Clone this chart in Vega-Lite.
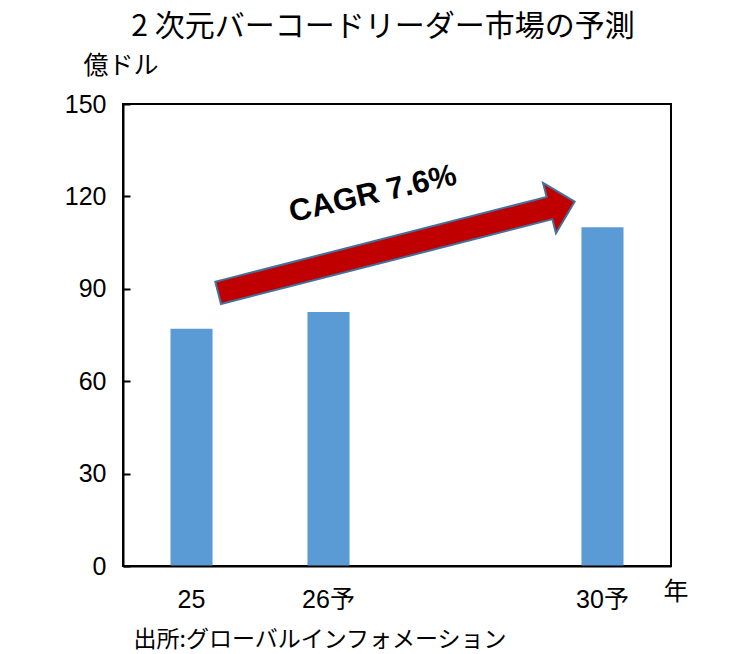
{
  "$schema": "https://vega.github.io/schema/vega-lite/v6.json",
  "autosize": {"type": "none"},
  "padding": {"left": 123, "top": 104, "right": 79, "bottom": 88},
  "width": 548,
  "height": 462,
  "background": "white",
  "title": {
    "text": "2 次元バーコードリーダー市場の予測",
    "font": "Noto Sans CJK JP",
    "fontSize": 30,
    "fontWeight": "normal",
    "color": "black",
    "anchor": "middle",
    "frame": "group",
    "dx": -14,
    "offset": 11
  },
  "config": {
    "view": {"stroke": "black", "strokeWidth": 2},
    "axis": {"grid": false}
  },
  "resolve": {"scale": {"x": "independent"}, "axis": {"x": "independent"}},
  "layer": [
    {
      "data": {
        "values": [
          {"year": "25", "value": 77},
          {"year": "26予", "value": 82.5},
          {"year": "30予", "value": 110}
        ]
      },
      "mark": {"type": "bar", "color": "#5B9BD5"},
      "encoding": {
        "x": {
          "field": "year",
          "type": "nominal",
          "sort": null,
          "scale": {"domain": ["25", "26予", "_", "30予"], "paddingInner": 0.693, "paddingOuter": 0.3467},
          "axis": {
            "orient": "bottom",
            "labelAngle": 0,
            "labelExpr": "datum.value == '_' ? '' : datum.value",
            "labelFont": "Liberation Sans, 'Noto Sans CJK JP'",
            "labelFontSize": 25,
            "labelColor": "black",
            "labelPadding": 21,
            "ticks": false,
            "domainColor": "black",
            "domainWidth": 2,
            "zindex": 1,
            "title": "年",
            "titleFont": "Noto Sans CJK JP",
            "titleFontSize": 25,
            "titleFontWeight": "normal",
            "titleColor": "black",
            "titleAlign": "left",
            "titleBaseline": "middle",
            "titleX": 540,
            "titleY": 25
          }
        },
        "y": {
          "field": "value",
          "type": "quantitative",
          "title": "億ドル",
          "scale": {"domain": [0, 150], "nice": false},
          "axis": {
            "values": [0, 30, 60, 90, 120, 150],
            "labelFont": "Liberation Sans",
            "labelFontSize": 25,
            "labelColor": "black",
            "tickSize": -7,
            "tickColor": "black",
            "tickWidth": 2,
            "labelPadding": 24,
            "domainColor": "black",
            "domainWidth": 2,
            "titleFont": "Noto Sans CJK JP",
            "titleFontSize": 25,
            "titleFontWeight": "normal",
            "titleColor": "black",
            "titleAngle": 0,
            "titleAlign": "left",
            "titleBaseline": "middle",
            "titleX": -40,
            "titleY": -39
          }
        }
      }
    },
    {
      "encoding": {
        "x": {
          "field": "ax",
          "type": "quantitative",
          "scale": {"domain": [0, 4], "nice": false, "zero": false},
          "axis": {
            "orient": "top",
            "labels": false,
            "ticks": false,
            "domain": false,
            "title": "出所:グローバルインフォメーション",
            "titleFont": "Noto Sans CJK JP",
            "titleFontSize": 23,
            "titleFontWeight": "normal",
            "titleColor": "black",
            "titleAngle": 0,
            "titleAlign": "left",
            "titleBaseline": "middle",
            "titleX": 10,
            "titleY": 535
          }
        },
        "y": {
          "field": "ay",
          "type": "quantitative",
          "title": "億ドル",
          "scale": {"domain": [0, 150], "nice": false}
        }
      },
      "layer": [
        {
          "data": {"values": [{"ax": 0.776, "ay": 89.6}, {"ax": 3.113, "ay": 116.2}]},
          "mark": {"type": "line", "color": "#41719C", "strokeWidth": 25, "strokeCap": "square"}
        },
        {
          "data": {"values": [{"ax": 3.113, "ay": 116.2}]},
          "mark": {
            "type": "point",
            "shape": "M0,-1L1,0L0,1Z",
            "size": 2704,
            "angle": 345.6,
            "filled": true,
            "fill": "#C00000",
            "stroke": "#41719C",
            "strokeWidth": 2,
            "opacity": 1
          }
        },
        {
          "data": {"values": [{"ax": 0.776, "ay": 89.6}, {"ax": 3.113, "ay": 116.2}]},
          "mark": {"type": "line", "color": "#C00000", "strokeWidth": 21, "strokeCap": "square"}
        },
        {
          "data": {"values": [{"ax": 1.839, "ay": 117.8, "label": "CAGR 7.6%"}]},
          "mark": {
            "type": "text",
            "font": "Liberation Sans",
            "fontWeight": "bold",
            "fontSize": 31,
            "align": "center",
            "baseline": "alphabetic",
            "angle": 347,
            "color": "black"
          },
          "encoding": {"text": {"field": "label", "type": "nominal"}}
        }
      ]
    }
  ]
}
